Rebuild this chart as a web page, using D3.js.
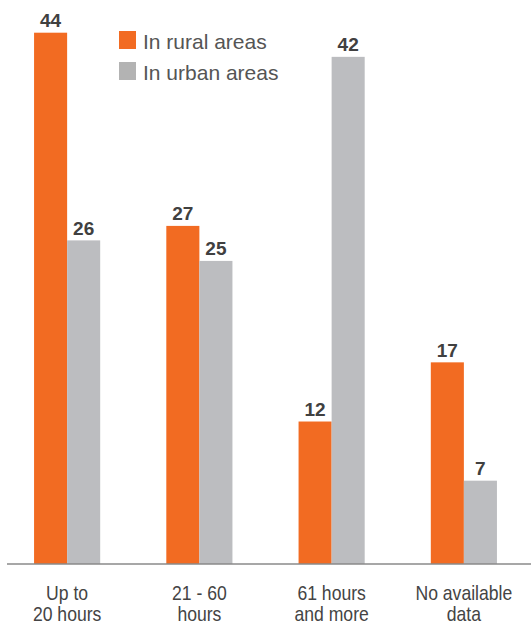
<!DOCTYPE html>
<html>
<head>
<meta charset="utf-8">
<script src="https://cdn.jsdelivr.net/npm/d3@7"></script>
<style>
  html, body { margin: 0; padding: 0; background: #fff; }
  svg { display: block; }
</style>
</head>
<body>
<svg id="chart" width="531" height="626"></svg>
<script>
// ---- data ----
const categories = [["Up to", "20 hours"], ["21 - 60", "hours"], ["61 hours", "and more"], ["No available", "data"]];
const seriesNames = ["In rural areas", "In urban areas"];
// bar heights
const rural = [44, 28.0, 11.8, 16.7];
const urban = [26.8, 25.1, 42, 6.9];
// printed value labels
const ruralLabels = ["44", "27", "12", "17"];
const urbanLabels = ["26", "25", "42", "7"];

const colors = ["#f26b22", "#bcbdc0"];
const legendColors = ["#f26b22", "#b3b3b3"];

const W = 531, H = 626;
const baseY = 564;
const svg = d3.select("#chart");

const catKeys = categories.map(c => c.join(" "));
const x0 = d3.scaleBand().domain(catKeys).range([1, 530]).paddingInner(0.5).paddingOuter(0.25);
const x1 = d3.scaleBand().domain([0, 1]).range([0, x0.bandwidth()]).padding(0);
const y = d3.scaleLinear().domain([0, 44]).range([baseY, baseY - 12.075 * 44]);

const rows = catKeys.map((k, i) => ({
  key: k,
  vals: [{s: 0, v: rural[i], label: ruralLabels[i]}, {s: 1, v: urban[i], label: urbanLabels[i]}]
}));

const g = svg.selectAll("g.grp").data(rows).join("g")
  .attr("class", "grp")
  .attr("transform", d => `translate(${x0(d.key)},0)`);

g.selectAll("rect").data(d => d.vals).join("rect")
  .attr("x", d => x1(d.s))
  .attr("y", d => y(d.v))
  .attr("width", x1.bandwidth())
  .attr("height", d => baseY - y(d.v))
  .attr("fill", d => colors[d.s]);

g.selectAll("text.val").data(d => d.vals).join("text")
  .attr("class", "val")
  .attr("x", d => x1(d.s) + x1.bandwidth() / 2)
  .attr("y", d => y(d.v) - 5.5)
  .attr("text-anchor", "middle")
  .attr("font-family", "'Liberation Sans', Arial, sans-serif")
  .attr("font-weight", "bold")
  .attr("font-size", 19)
  .attr("fill", "#404040")
  .text(d => d.label);

// baseline axis
const xAxis = d3.axisBottom(x0).tickSize(0).tickFormat("");
const ax = svg.append("g").attr("transform", `translate(0,${baseY})`).call(xAxis);
ax.select(".domain").attr("stroke", "#8a8a8a").attr("stroke-width", 1.6).attr("d", "M7,0H531");

// category labels
const catG = svg.selectAll("g.cat").data(categories).join("g")
  .attr("class", "cat")
  .attr("transform", (d, i) => `translate(${x0(catKeys[i]) + x0.bandwidth() / 2},0)`);
catG.each(function(d) {
  const sel = d3.select(this);
  d.forEach((line, j) => {
    sel.append("text")
      .attr("transform", `translate(0,${599.5 + j * 21.5}) scale(0.88,1)`)
      .attr("text-anchor", "middle")
      .attr("font-family", "'Liberation Sans', Arial, sans-serif")
      .attr("font-size", 20)
      .attr("fill", "#444")
      .text(line);
  });
});

// legend
const leg = svg.append("g");
seriesNames.forEach((name, i) => {
  const ly = 31 + i * 31;
  leg.append("rect").attr("x", 119).attr("y", ly).attr("width", 17).attr("height", 18).attr("fill", legendColors[i]);
  leg.append("text")
    .attr("x", 143).attr("y", ly + 18)
    .attr("font-family", "'Liberation Sans', Arial, sans-serif")
    .attr("font-size", 21)
    .attr("fill", "#555")
    .text(name);
});
</script>
</body>
</html>
